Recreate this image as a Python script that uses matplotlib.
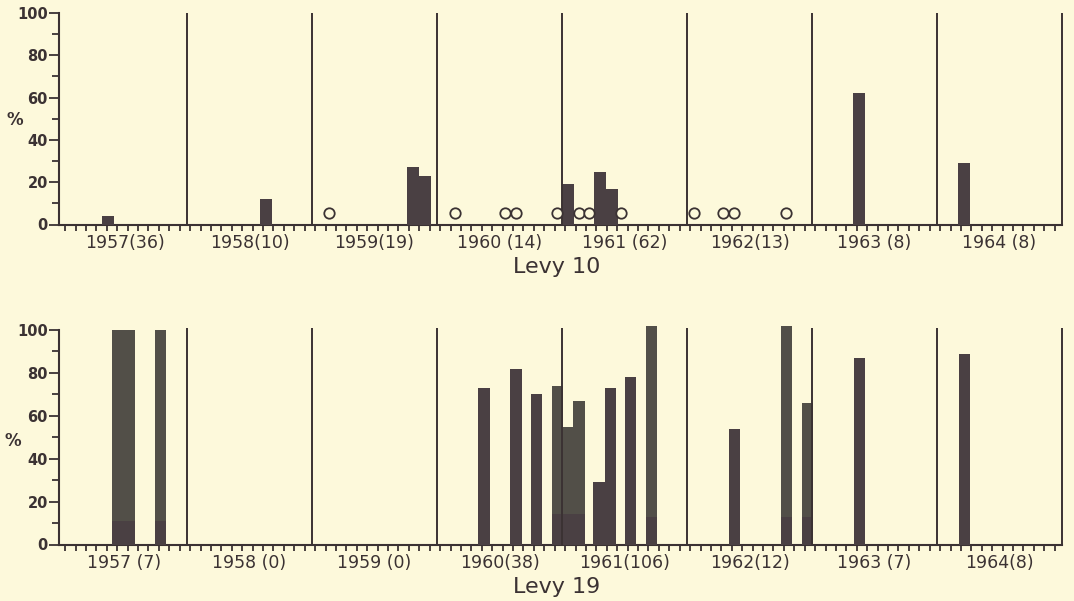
import numpy as np
import matplotlib
matplotlib.use("Agg")
import matplotlib.pyplot as plt

# ---------------- data (x in months from Jan 1957) ----------------
years = ["1957", "1958", "1959", "1960", "1961", "1962", "1963", "1964"]
labels_top = ["1957(36)", "1958(10)", "1959(19)", "1960 (14)", "1961 (62)",
              "1962(13)", "1963 (8)", "1964 (8)"]
labels_bot = ["1957 (7)", "1958 (0)", "1959 (0)", "1960(38)", "1961(106)",
              "1962(12)", "1963 (7)", "1964(8)"]

# Levy 10: bar start month and percent
l10_start = [3.85, 19.05, 33.1, 34.25, 48.0, 51.05, 52.2, 75.95, 86.0]
l10_pct = [4, 12, 27, 23, 19, 25, 17, 62, 29]
# Levy 10: open circles (samples with 0 %)
l10_zero = [25.6, 37.7, 42.5, 43.6, 47.5, 49.65, 50.6, 53.7,
            60.65, 63.5, 64.5, 69.5]

# Levy 19: bar start month, percent, and height of darker lower segment
l19_start = [4.8, 5.9, 8.9, 39.95, 43.05, 45.0, 47.0, 48.05, 49.1,
             51.0, 52.1, 54.0, 56.05, 64.0, 69.0, 71.0, 76.0, 86.1]
l19_pct = [100, 100, 100, 73, 82, 70, 74, 55, 67,
           29, 73, 78, 102, 54, 102, 66, 87, 89]
l19_low = [11, 11, 11, 73, 82, 70, 14, 14, 14,
           29, 73, 78, 13, 54, 13, 13, 87, 89]

# ---------------- style ----------------
BG = "#fdf9db"
INK = "#3b3233"
BAR = "#4a4043"
BAR_UP = "#524f48"
FONT = "DejaVu Sans"

plt.rcParams["font.family"] = [FONT]

W, H = 1074, 601
fig = plt.figure(figsize=(W / 100, H / 100), dpi=100, facecolor=BG)

x0 = 59 / W
wid = (1064 - 59) / W
xlim = (-0.29, 96.19)

ax1 = fig.add_axes([x0, 1 - 224.5 / H, wid, (224.5 - 10.9) / H])
ax2 = fig.add_axes([x0, 1 - 544.5 / H, wid, (544.5 - 321.4) / H])


def style(ax, top, labels, div_top):
    ax.set_facecolor(BG)
    ax.set_xlim(*xlim)
    ax.set_ylim(0, top)
    for s in ("top", "right"):
        ax.spines[s].set_visible(False)
    for s in ("left", "bottom"):
        ax.spines[s].set_color(INK)
        ax.spines[s].set_linewidth(1.5)
    ax.spines["left"].set_bounds(0, 100)
    ax.spines["bottom"].set_bounds(xlim[0], 96)
    # year dividers
    ax.vlines(np.arange(12, 97, 12), 0, div_top, color=INK, lw=1.4, zorder=4)
    # y ticks
    ax.set_yticks(np.arange(0, 101, 20))
    ax.set_yticks(np.arange(10, 100, 20), minor=True)
    ax.tick_params(axis="y", which="major", length=7, width=1.3, color=INK,
                   labelsize=10.5, pad=1, labelcolor=INK)
    ax.tick_params(axis="y", which="minor", length=5, width=1.3, color=INK)
    for t in ax.get_yticklabels():
        t.set_fontweight("bold")
    # x ticks: year labels at centres, monthly minor ticks
    ax.set_xticks(np.arange(6, 96, 12), labels=labels)
    ax.set_xticks(np.arange(96) + 0.3, minor=True)
    ax.tick_params(axis="x", which="major", length=0, labelsize=12.5,
                   pad=6.5, labelcolor=INK)
    ax.tick_params(axis="x", which="minor", length=4.5, width=1.3, color=INK,
                   direction="out")


style(ax1, 101, labels_top, 100)
style(ax2, 104, labels_bot, 101)

# Levy 10
ax1.bar(l10_start, l10_pct, width=1.15, align="edge", color=BAR,
        edgecolor="none", zorder=3)
ax1.plot(l10_zero, [5.3] * len(l10_zero), "o", ms=7.5, mfc=BG, mec=INK,
         mew=1.3, zorder=5, clip_on=False)

# Levy 19
ax2.bar(l19_start, l19_pct, width=1.1, align="edge", color=BAR_UP,
        edgecolor="none", zorder=3)
ax2.bar(l19_start, l19_low, width=1.1, align="edge", color=BAR,
        edgecolor="none", zorder=3)

# axis titles
fig.text(15 / W, 1 - 120 / H, "%", ha="center", va="center", fontsize=12,
         color=INK, fontweight="bold")
fig.text(13 / W, 1 - 441 / H, "%", ha="center", va="center", fontsize=12,
         color=INK, fontweight="bold")
fig.text(557 / W, 1 - 273 / H, "Levy 10", ha="center", va="baseline",
         fontsize=16, color=INK)
fig.text(557 / W, 1 - 593 / H, "Levy 19", ha="center", va="baseline",
         fontsize=16, color=INK)

fig.savefig("out.png", dpi=100, facecolor=BG)
